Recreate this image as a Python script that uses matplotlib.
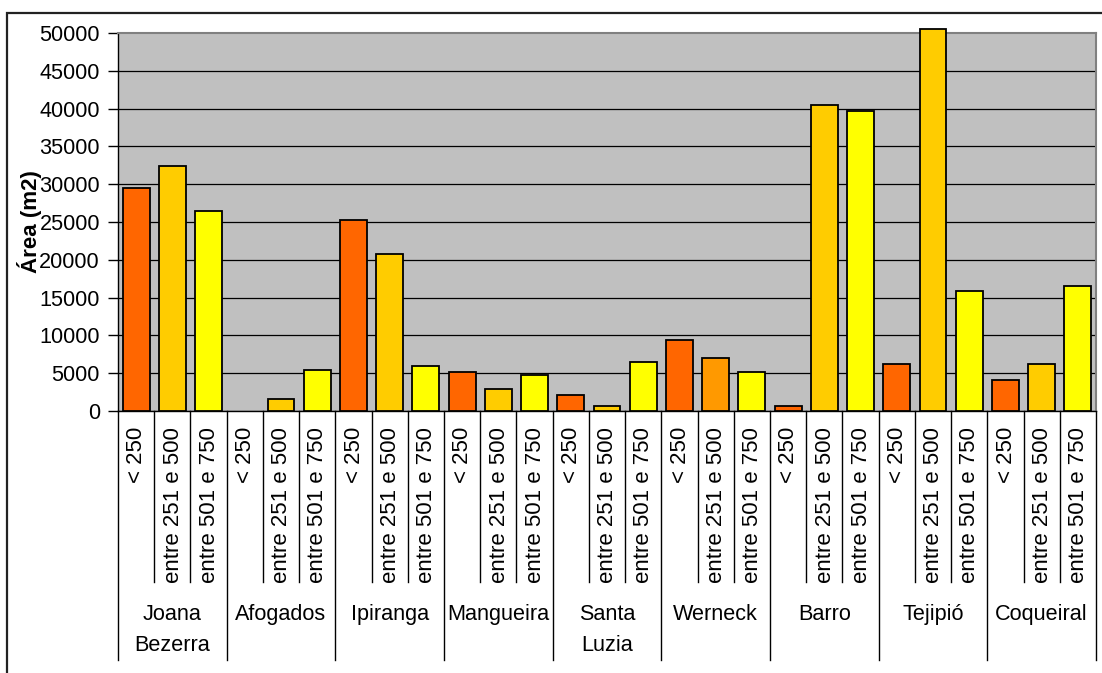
"""Bar chart of built area per lot-size class in each neighbourhood."""

import numpy as np
from matplotlib import pyplot as plt
from matplotlib import patches as mpatches
from matplotlib import transforms as mtransforms

plt.rcParams["font.family"] = ["Liberation Sans", "DejaVu Sans"]

BAIRROS = [
    "Joana\nBezerra",
    "Afogados",
    "Ipiranga",
    "Mangueira",
    "Santa\nLuzia",
    "Werneck",
    "Barro",
    "Tejipió",
    "Coqueiral",
]
CLASSES = ["< 250", "entre 251 e 500", "entre 501 e 750"]
AREA_ATE_250 = [29500, 0, 25200, 5100, 2100, 9400, 600, 6200, 4100]
AREA_251_500 = [32400, 1600, 20800, 2900, 600, 7000, 40500, 50500, 6200]
AREA_501_750 = [26500, 5400, 5900, 4800, 6500, 5100, 39700, 15900, 16500]
Y_TICKS = list(range(0, 50001, 5000))

CLR = ["#FF6600", "#FFCC00", "#FFFF00"]
CLR_WERNECK_MID = "#FF9900"
FONTSIZE = 15.6

W, H = 1102, 673


def fy(py):
    """Pixel row -> figure fraction."""
    return 1 - py / H


fig = plt.figure(figsize=(W / 100, H / 100), dpi=100)
ax = fig.add_axes([118 / W, fy(411), (1096 - 118) / W, (411 - 33) / H])

# outer chart frame (runs off the right and bottom edges)
fig.patches.append(
    mpatches.Rectangle(
        (7 / W, -0.05), 1.2, fy(13) + 0.05,
        transform=fig.transFigure, fill=False, edgecolor="#222222", linewidth=1.6,
    )
)

values = np.array([AREA_ATE_250, AREA_251_500, AREA_501_750]).T.ravel()
colors = []
for bairro in BAIRROS:
    for k in range(len(CLASSES)):
        if bairro == "Werneck" and k == 1:
            colors.append(CLR_WERNECK_MID)
        else:
            colors.append(CLR[k])
x = np.arange(len(values))

ax.set_facecolor("#C0C0C0")
bars = ax.bar(x, values, width=0.74, color=colors, edgecolor="black", linewidth=1.3, zorder=3)
for b, v in zip(bars, values):
    b.set_clip_on(False)
    if v == 0:
        b.set_visible(False)

ax.set_xlim(-0.5, len(values) - 0.5)
ax.set_ylim(0, 50000)
ax.set_yticks(Y_TICKS)
ax.set_yticklabels([str(t) for t in Y_TICKS], fontsize=FONTSIZE)
ax.tick_params(axis="y", length=7, width=1, pad=6, direction="out")
ax.set_xticks([])
ax.yaxis.grid(True, color="black", linewidth=0.9)
ax.set_axisbelow(True)
ax.get_ygridlines()[-1].set_visible(False)

for side in ("top", "right"):
    ax.spines[side].set_color("#808080")
    ax.spines[side].set_linewidth(1.5)
ax.spines["left"].set_linewidth(1)
ax.spines["bottom"].set_linewidth(1)

ax.set_ylabel("Área (m2)", fontsize=FONTSIZE + 0.5, fontweight="bold")
ax.yaxis.set_label_coords(-0.078, 0.5)

# category axis: rotated class labels, separators and neighbourhood names
trans = mtransforms.blended_transform_factory(ax.transData, fig.transFigure)
n_cls = len(CLASSES)
for i in range(len(values) + 1):
    edge = i - 0.5
    bottom = 660 if i % n_cls == 0 else 582
    ax.plot([edge, edge], [fy(411), fy(bottom)], transform=trans,
            color="black", linewidth=1, clip_on=False)
for i in range(len(values)):
    ax.text(i + 0.02, fy(427), CLASSES[i % n_cls], transform=trans, rotation=90,
            ha="center", va="top", fontsize=FONTSIZE + 0.4)
for g, name in enumerate(BAIRROS):
    xc = g * n_cls + 1
    for j, line in enumerate(name.split("\n")):
        ax.text(xc, fy(620 + 31 * j), line, transform=trans, ha="center",
                va="baseline", fontsize=FONTSIZE)

fig.savefig("out.png", dpi=100)
